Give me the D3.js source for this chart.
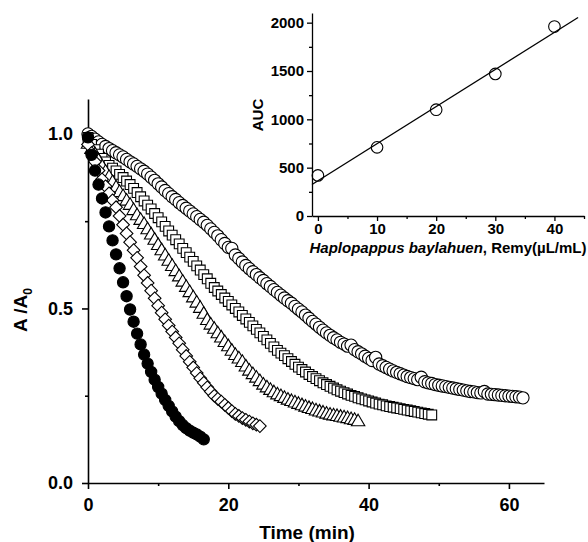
<!DOCTYPE html>
<html><head><meta charset="utf-8">
<script src="https://cdn.jsdelivr.net/npm/d3@7"></script>
<style>
body{margin:0;background:#fff}
text{font-family:"Liberation Sans",Arial,Helvetica,sans-serif;font-weight:bold;fill:#000}
</style>
</head><body>
<svg id="chart" width="588" height="542"></svg>
<script>
// ---------- data ----------
const timeStep = 0.5; // minutes between readings
const control = [0.99,0.94,0.895,0.855,0.815,0.775,0.735,0.695,0.655,0.615,0.575,0.535,0.497,0.462,0.428,0.397,0.368,0.342,0.318,0.296,0.275,0.256,0.238,0.221,0.205,0.190,0.177,0.166,0.157,0.150,0.144,0.139,0.133,0.125];
const conc10 = [0.97,0.945,0.92,0.895,0.87,0.85,0.83,0.81,0.79,0.765,0.74,0.715,0.69,0.667,0.645,0.62,0.595,0.573,0.551,0.529,0.508,0.488,0.469,0.451,0.434,0.417,0.400,0.382,0.364,0.347,0.331,0.315,0.300,0.287,0.274,0.262,0.250,0.241,0.233,0.224,0.215,0.206,0.198,0.192,0.186,0.181,0.176,0.171,0.167,0.163];
const conc20 = [0.97,0.955,0.94,0.922,0.905,0.89,0.875,0.86,0.845,0.832,0.82,0.807,0.795,0.78,0.765,0.752,0.74,0.725,0.71,0.695,0.68,0.665,0.65,0.635,0.62,0.605,0.59,0.575,0.56,0.545,0.53,0.515,0.50,0.483,0.465,0.452,0.44,0.427,0.415,0.402,0.39,0.377,0.365,0.355,0.345,0.332,0.32,0.31,0.30,0.29,0.28,0.272,0.265,0.258,0.252,0.247,0.242,0.237,0.233,0.229,0.225,0.221,0.217,0.213,0.21,0.206,0.203,0.2,0.197,0.194,0.192,0.19,0.188,0.186,0.184,0.181,0.179,0.175];
const conc30 = [0.99,0.97,0.955,0.942,0.93,0.92,0.91,0.902,0.894,0.884,
0.875,0.865,0.855,0.844,0.832,0.82,0.808,0.796,0.785,0.772,
0.76,0.748,0.735,0.722,0.71,0.697,0.685,0.672,0.66,0.647,
0.635,0.622,0.61,0.597,0.585,0.572,0.56,0.55,0.54,0.53,
0.52,0.51,0.50,0.49,0.48,0.47,0.46,0.45,0.44,0.43,
0.42,0.41,0.40,0.39,0.38,0.372,0.365,0.356,0.348,0.34,
0.332,0.325,0.318,0.311,0.305,0.299,0.293,0.287,0.282,0.277,
0.272,0.267,0.263,0.259,0.255,0.251,0.248,0.244,0.241,0.238,
0.235,0.232,0.229,0.226,0.224,0.221,0.219,0.217,0.215,0.213,
0.211,0.209,0.207,0.205,0.203,0.201,0.199,0.197,0.195];
const conc40 = [1.0,0.993,0.985,0.977,0.97,0.964,0.958,0.952,0.946,0.94,
0.934,0.927,0.92,0.914,0.907,0.9,0.893,0.885,0.876,0.867,
0.857,0.848,0.838,0.829,0.82,0.812,0.803,0.795,0.787,0.779,
0.771,0.763,0.755,0.747,0.738,0.728,0.718,0.708,0.697,0.686,
0.675,0.672,0.653,0.643,0.633,0.623,0.614,0.605,0.597,0.588,
0.58,0.571,0.563,0.554,0.546,0.538,0.53,0.522,0.515,0.506,
0.498,0.49,0.481,0.472,0.463,0.455,0.446,0.438,0.43,0.423,
0.416,0.41,0.403,0.398,0.392,0.395,0.382,0.376,0.37,0.363,
0.357,0.351,0.36,0.341,0.336,0.331,0.326,0.321,0.317,0.313,
0.309,0.305,0.302,0.299,0.296,0.303,0.29,0.287,0.285,0.282,
0.28,0.278,0.276,0.274,0.272,0.27,0.268,0.266,0.264,0.262,
0.261,0.259,0.258,0.262,0.255,0.254,0.253,0.252,0.251,0.25,
0.249,0.248,0.247,0.246,0.244];

const aucConc = [0,10,20,30,40];
const aucValues = [420,710,1100,1470,1960];

const mainXTicks = [0,20,40,60];
const mainXMinor = [10,30,50];
const mainYTicks = [0.0,0.5,1.0];
const mainYMinor = [0.25,0.75];
const insetXTicks = [0,10,20,30,40];
const insetXMinor = [5,15,25,35,45];
const insetYTicks = [0,500,1000,1500,2000];
const insetYMinor = [250,750,1250,1750];

// ---------- setup ----------
const svg = d3.select("#chart");
const toPoints = arr => arr.map((v,i)=>({t:i*timeStep, a:v}));

const mx = d3.scaleLinear().domain([0,65]).range([88,544]);
const my = d3.scaleLinear().domain([0,1.1]).range([483,99]);

function drawAxes(g, xs, ys, o){
  g.append("g").attr("transform",`translate(0,${ys.range()[0]})`)
    .call(d3.axisBottom(xs).tickValues(o.xt).tickFormat(o.fx).tickSize(o.major).tickSizeOuter(0).tickPadding(o.padX));
  g.append("g").attr("transform",`translate(0,${ys.range()[0]})`)
    .call(d3.axisBottom(xs).tickValues(o.xm).tickFormat("").tickSize(o.minor).tickSizeOuter(0))
    .select(".domain").remove();
  g.append("g").attr("transform",`translate(${xs.range()[0]},0)`)
    .call(d3.axisLeft(ys).tickValues(o.yt).tickFormat(o.fy).tickSize(o.major).tickSizeOuter(0).tickPadding(o.padY));
  g.append("g").attr("transform",`translate(${xs.range()[0]},0)`)
    .call(d3.axisLeft(ys).tickValues(o.ym).tickFormat("").tickSize(o.minor).tickSizeOuter(0))
    .select(".domain").remove();
  g.selectAll(".domain").attr("stroke","#000").attr("stroke-width",o.lw);
  g.selectAll(".tick line").attr("stroke","#000").attr("stroke-width",o.lw);
  g.selectAll(".tick text").attr("font-size",o.fs).attr("font-family",null).attr("fill","#000");
}

drawAxes(svg.append("g"), mx, my, {xt:mainXTicks, xm:mainXMinor, yt:mainYTicks, ym:mainYMinor,
  fx:d3.format("d"), fy:d3.format(".1f"), fs:18, major:6, minor:3, padX:9, padY:9, lw:1.6});

svg.append("text").attr("x",307).attr("y",539).attr("text-anchor","middle").attr("font-size",19).text("Time (min)");
const yl = svg.append("text").attr("transform","translate(27,310) rotate(-90)").attr("text-anchor","middle").attr("font-size",19);
yl.append("tspan").text("A /A");
yl.append("tspan").attr("font-size",12).attr("dy",5).text("0");

const sym = (type,size)=>d3.symbol().type(type).size(size)();
const series = [
  {data: conc40, path: sym(d3.symbolCircle, 118), fill:"#fff", rot:0},
  {data: conc30, path: sym(d3.symbolSquare, 96), fill:"#fff", rot:0},
  {data: conc20, path: sym(d3.symbolTriangle, 78), fill:"#fff", rot:0},
  {data: conc10, path: sym(d3.symbolSquare, 80), fill:"#fff", rot:45},
  {data: control, path: sym(d3.symbolCircle, 100), fill:"#000", rot:0}
];
series.forEach(s=>{
  svg.append("g").selectAll("path").data(toPoints(s.data)).join("path")
    .attr("d", s.path)
    .attr("transform", d=>`translate(${mx(d.t)},${my(d.a)}) rotate(${s.rot})`)
    .attr("fill", s.fill).attr("stroke","#000").attr("stroke-width",1.1);
});

// ---------- inset ----------
const ix = d3.scaleLinear().domain([-1,45]).range([312,584]);
const iy = d3.scaleLinear().domain([0,2100]).range([216,13]);
drawAxes(svg.append("g"), ix, iy, {xt:insetXTicks, xm:insetXMinor, yt:insetYTicks, ym:insetYMinor,
  fx:d3.format("d"), fy:d3.format("d"), fs:15, major:5, minor:3, padX:2, padY:3, lw:1.3});

const mX = d3.mean(aucConc), mY = d3.mean(aucValues);
const slope = d3.sum(aucConc.map((x,i)=>(x-mX)*(aucValues[i]-mY))) / d3.sum(aucConc.map(x=>(x-mX)*(x-mX)));
const icpt = mY - slope*mX;
const lineX = [-1, 44];
svg.append("path")
  .attr("d", d3.line().x(d=>ix(d)).y(d=>iy(icpt+slope*d))(lineX))
  .attr("stroke","#000").attr("stroke-width",1.3).attr("fill","none");

svg.append("g").selectAll("circle").data(aucConc.map((c,i)=>({c, v:aucValues[i]}))).join("circle")
  .attr("cx",d=>ix(d.c)).attr("cy",d=>iy(d.v)).attr("r",5.8)
  .attr("fill","none").attr("stroke","#000").attr("stroke-width",1.1);

svg.append("text").attr("transform","translate(263,115) rotate(-90)").attr("text-anchor","middle").attr("font-size",15).text("AUC");
const xl = svg.append("text").attr("x",448).attr("y",253).attr("text-anchor","middle").attr("font-size",15);
xl.append("tspan").attr("font-style","italic").text("Haplopappus baylahuen");
xl.append("tspan").text(", Remy(µL/mL)");
</script>
</body></html>
